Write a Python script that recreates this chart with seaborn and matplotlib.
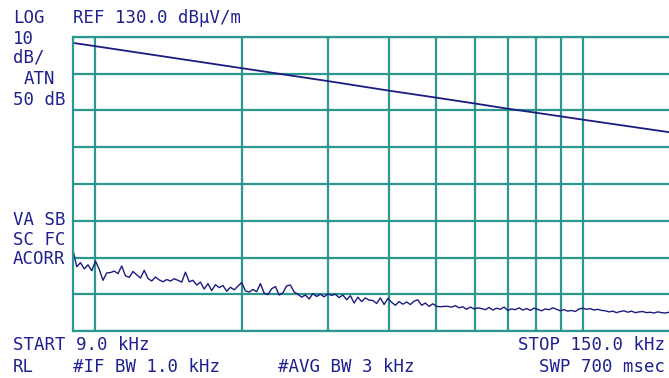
import numpy as np
import pandas as pd
import matplotlib
matplotlib.use('Agg')
import matplotlib.pyplot as plt
import seaborn as sns

# Verlauf oben: Grenzwertkurve (kHz, dBuV/m)
limit_freq = [9, 10, 20, 30, 40, 50, 60, 70, 80, 90, 100, 150]
limit_level = [128.4, 127.5, 121.5, 118.0, 115.4, 113.5, 111.9, 110.5, 109.4, 108.4, 107.5, 104.1]

# Rauschspur unten, 160 Sweep-Punkte von 9 bis 150 kHz
noise_level = [
    72.0, 67.5, 68.6, 66.9, 68.0, 66.4, 69.0, 66.8, 63.8, 65.8,
    65.9, 66.3, 65.6, 67.7, 65.0, 64.6, 66.2, 65.3, 64.4, 66.5,
    64.3, 63.6, 64.7, 63.9, 63.4, 64.0, 63.6, 64.2, 63.8, 63.3,
    66.0, 63.4, 63.8, 62.5, 63.3, 61.4, 62.9, 61.0, 62.6, 61.8,
    62.4, 60.8, 61.9, 61.2, 62.2, 63.2, 60.9, 60.6, 61.3, 60.7,
    62.9, 60.3, 59.9, 61.5, 62.1, 59.8, 60.4, 62.3, 62.5, 60.6,
    60.0, 59.2, 59.8, 58.7, 60.2, 59.4, 60.0, 59.3, 60.1, 59.7,
    60.0, 59.1, 59.8, 58.5, 59.6, 57.6, 59.2, 58.0, 59.0, 58.4,
    58.3, 57.5, 59.0, 57.2, 58.9, 57.8, 57.0, 58.0, 57.3, 57.9,
    57.2, 58.1, 58.5, 57.0, 57.6, 56.7, 57.4, 56.7, 56.6, 56.7,
    56.7, 56.5, 56.9, 56.3, 56.6, 55.9, 56.5, 56.0, 56.3, 56.1,
    55.8, 56.4, 55.7, 56.2, 55.9, 56.5, 55.6, 56.0, 55.8, 56.3,
    55.7, 56.1, 55.6, 56.2, 55.9, 55.5, 56.0, 55.8, 56.3, 55.9,
    55.5, 55.8, 55.4, 55.6, 55.3, 56.0, 56.2, 55.9, 56.1, 55.7,
    55.9, 55.6, 55.5, 55.2, 55.4, 55.0, 55.3, 55.5, 55.1, 55.4,
    55.0, 55.2, 55.3, 55.0, 55.1, 54.9, 55.2, 55.0, 54.9, 55.1,
]
noise_freq = np.geomspace(9, 150, len(noise_level))

x_grid = [10, 20, 30, 40, 50, 60, 70, 80, 90, 100]
y_grid = [50, 60, 70, 80, 90, 100, 110, 120, 130]

grid_col = '#2b978f'
trace_col = '#1c1c80'
text_col = '#1f2090'

sns.set_style('white')
plt.rcParams['font.family'] = ['DejaVu Sans Mono', 'DejaVu Sans']

W, H = 669, 378
fig = plt.figure(figsize=(W / 100, H / 100), dpi=100)
ax = fig.add_axes([73 / W, 1 - 331 / H, (W - 73) / W, 294 / H])

df_lim = pd.DataFrame({'f': limit_freq, 'lvl': limit_level})
df_noise = pd.DataFrame({'f': noise_freq, 'lvl': noise_level})
sns.lineplot(data=df_lim, x='f', y='lvl', ax=ax, color=trace_col, linewidth=1.3)
sns.lineplot(data=df_noise, x='f', y='lvl', ax=ax, color=trace_col, linewidth=1.0)

ax.set_xscale('log')
ax.set_xlim(9, 150)
ax.set_ylim(50, 130)
ax.set_xticks(x_grid)
ax.set_xticks([], minor=True)
ax.set_yticks(y_grid)
ax.set_xticklabels([])
ax.set_yticklabels([])
ax.tick_params(length=0)
ax.set_xlabel('')
ax.set_ylabel('')
ax.grid(True, color=grid_col, linewidth=1.6)
ax.set_axisbelow(True)
for side in ['left', 'bottom', 'top']:
    ax.spines[side].set_color(grid_col)
    ax.spines[side].set_linewidth(1.6)
ax.spines['right'].set_visible(False)

def label(x, y, s, ha='left'):
    fig.text(x / W, 1 - y / H, s, ha=ha, va='center', color=text_col, fontsize=12.5)

label(13, 18, 'LOG')
label(73, 18, 'REF 130.0 dBµV/m')
label(13, 39, '10')
label(13, 58, 'dB/')
label(24, 79, 'ATN')
label(13, 100, '50 dB')
label(13, 220, 'VA SB')
label(13, 240, 'SC FC')
label(13, 259, 'ACORR')
label(13, 345, 'START 9.0 kHz')
label(665, 345, 'STOP 150.0 kHz', ha='right')
label(13, 367, 'RL')
label(73, 367, '#IF BW 1.0 kHz')
label(278, 367, '#AVG BW 3 kHz')
label(665, 367, 'SWP 700 msec', ha='right')

fig.savefig('out.png', dpi=100)
